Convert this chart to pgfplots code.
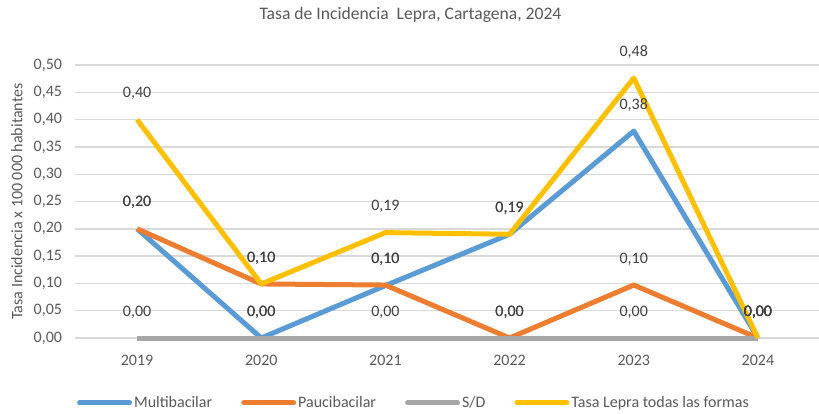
\documentclass[border=0pt]{standalone}
\usepackage{fontspec}
\setmainfont{Carlito}
\usepackage{pgfplots}
\pgfplotsset{compat=1.18}
\definecolor{cblue}{HTML}{5B9BD5}
\definecolor{corange}{HTML}{ED7D31}
\definecolor{cgray}{HTML}{A5A5A5}
\definecolor{cgold}{HTML}{FFC000}
\definecolor{ctext}{HTML}{595959}
\definecolor{clabel}{HTML}{404040}
\definecolor{cgrid}{HTML}{D9D9D9}
\begin{document}
\begin{tikzpicture}
\useasboundingbox (0pt,0pt) rectangle (819pt,413pt);
\begin{axis}[
  at={(75pt,75pt)}, anchor=south west,
  scale only axis, width=745pt, height=273pt,
  xmin=-0.5, xmax=5.5, ymin=0, ymax=0.5,
  xtick={0,1,2,3,4,5},
  xticklabels={2019,2020,2021,2022,2023,2024},
  ytick={0,0.05,...,0.51},
  axis line style={draw=none},
  major tick length=0pt,
  ymajorgrids, major grid style={cgrid, line width=1.4pt},
  tick label style={font=\fontsize{16}{19}\selectfont, text=ctext},
  yticklabel style={xshift=-9.5pt, /pgf/number format/.cd, fixed, fixed zerofill, precision=2, use comma, assume math mode=true},
  yticklabel={\pgfmathprintnumber{\tick}},
  xtick pos=bottom,
  xticklabel style={anchor=base, yshift=-27pt},
  ylabel={Tasa Incidencia x 100 000 habitantes},
  ylabel style={font=\fontsize{16}{19}\selectfont, text=ctext, at={(axis description cs:-0.078,0.5)}, anchor=center},
  title={Tasa de Incidencia\ \ Lepra, Cartagena, 2024},
  title style={font=\fontsize{17.6}{21}\selectfont, text=ctext, at={(axis description cs:0.4503,1.161)}, anchor=center},
  clip=false,
  nodes near coords={\pgfmathprintnumber[fixed,fixed zerofill,precision=2,use comma,assume math mode=true]{\pgfplotspointmeta}},
  every node near coord/.append style={font=\fontsize{16}{19}\selectfont, text=clabel, anchor=center, yshift=26pt, inner sep=0pt},
  legend columns=4,
  legend style={draw=none, fill=none, at={(axis description cs:0.455,-0.238)}, anchor=center,
    font=\fontsize{16}{19}\selectfont, text=ctext,
    nodes={inner sep=2pt},
    /tikz/every even column/.append style={column sep=27pt}},
  legend image code/.code={\draw[#1, line width=5pt, line cap=round] (0pt,0pt) -- (50pt,0pt);},
  every axis plot/.append style={line width=5pt, line join=round, mark=none},
]
\addplot[cblue] coordinates {(0,0.20) (1,0.00) (2,0.096) (3,0.19) (4,0.379) (5,0.00)};
\addlegendentry{Multibacilar}
\addplot[corange] coordinates {(0,0.20) (1,0.099) (2,0.097) (3,0.00) (4,0.097) (5,0.00)};
\addlegendentry{Paucibacilar}
\addplot[cgray] coordinates {(0,0) (1,0) (2,0) (3,0) (4,0) (5,0)};
\addlegendentry{S/D}
\addplot[cgold] coordinates {(0,0.40) (1,0.099) (2,0.193) (3,0.19) (4,0.476) (5,0.00)};
\addlegendentry{Tasa Lepra todas las formas}
\end{axis}
\end{tikzpicture}
\end{document}
